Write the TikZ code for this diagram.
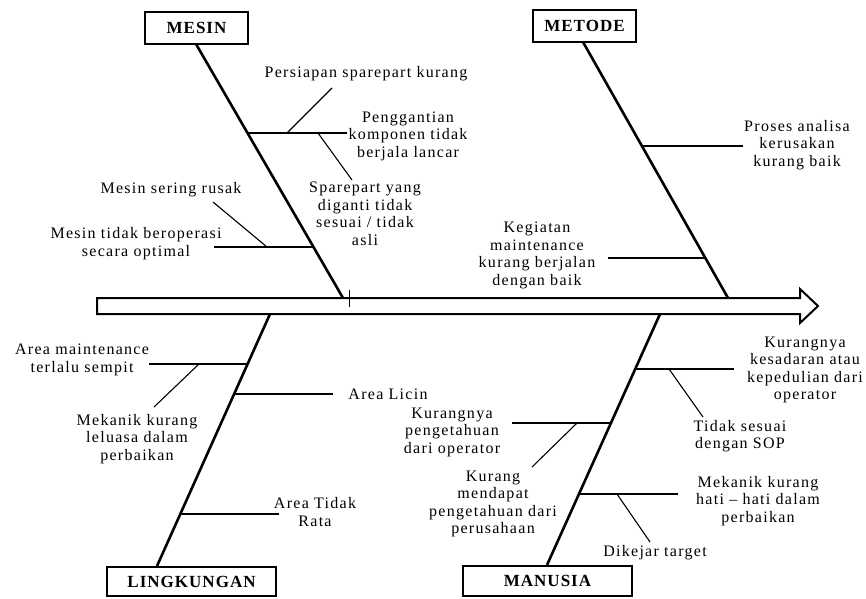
\documentclass[tikz,border=0pt]{standalone}
\usepackage{fontspec}
\setmainfont{Liberation Serif}[LetterSpace=8]
\newfontfamily\boxfont{Liberation Serif}[LetterSpace=6]
\begin{document}
\begin{tikzpicture}[x=1pt,y=-1pt,
  lbl/.style={align=center,font=\fontsize{16}{17.5}\selectfont,inner sep=0pt},
  catbox/.style={draw,line width=2.2pt,font=\boxfont\fontsize{17}{19}\selectfont\bfseries,inner sep=0pt},
  bone/.style={line width=2.6pt},
  twig/.style={line width=1.1pt},
  spine/.style={line width=2pt,line join=miter}]
\useasboundingbox (0,0) rectangle (866,598);

% spine arrow
\draw[spine] (97,298) -- (800,298) -- (800,289) -- (818,306) -- (800,323) -- (800,314) -- (97,314) -- cycle;
\draw[line width=0.8pt] (349,290) -- (349,307);

% category boxes
\node[catbox,minimum width=103pt,minimum height=32pt] (mesin) at (196.5,28) {MESIN};
\node[catbox,minimum width=103pt,minimum height=32pt] (metode) at (584.5,26) {METODE};
\node[catbox,minimum width=169pt,minimum height=29pt] (lingk) at (191.5,581.5) {LINGKUNGAN};
\node[catbox,minimum width=169pt,minimum height=30pt] (manusia) at (547.5,581) {MANUSIA};

% bone ends
\coordinate (mesinEnd) at (343,298);
\coordinate (metodeEnd) at (728,298);
\coordinate (lingkStart) at (270,314);
\coordinate (lingkTop) at (157,566);
\coordinate (manStart) at (660,314);
\coordinate (manTop) at (547,565);

\draw[bone] (196,44) -- (mesinEnd);
\draw[bone] (583,42) -- (metodeEnd);
\draw[bone] (lingkStart) -- (lingkTop);
\draw[bone] (manStart) -- (manTop);

% labels
\node[lbl] (l1) at (366,74) {Persiapan sparepart kurang};
\node[lbl] (l2) at (408,136) {Penggantian\\komponen tidak\\berjala lancar};
\node[lbl] (l3) at (365,214) {Sparepart yang\\diganti tidak\\sesuai / tidak\\asli};
\node[lbl] (l4) at (171,190) {Mesin sering rusak};
\node[lbl] (l5) at (136,243.5) {Mesin tidak beroperasi\\secara optimal};
\node[lbl] (l6) at (797,145) {Proses analisa\\kerusakan\\kurang baik};
\node[lbl] (l7) at (537,255.5) {Kegiatan\\maintenance\\kurang berjalan\\dengan baik};
\node[lbl] (l8) at (82,360) {Area maintenance\\terlalu sempit};
\node[lbl] (l9) at (137,439) {Mekanik kurang\\leluasa dalam\\perbaikan};
\node[lbl] (l10) at (388,394) {Area Licin};
\node[lbl] (l11) at (315,512) {Area Tidak\\Rata};
\node[lbl] (l12) at (805,370) {Kurangnya\\kesadaran atau\\kepedulian dari\\operator};
\node[lbl] (l13) at (740,436) {Tidak sesuai\\dengan SOP};
\node[lbl] (l14) at (452,432) {Kurangnya\\pengetahuan\\dari operator};
\node[lbl] (l15) at (493,504) {Kurang\\mendapat\\pengetahuan dari\\perusahaan};
\node[lbl] (l16) at (758,501) {Mekanik kurang\\hati -- hati dalam\\perbaikan};
\node[lbl] (l17) at (655,553) {Dikejar target};

% MESIN twigs
\coordinate (a1) at (247.1,133); \coordinate (a2) at (347,133);
\coordinate (a3) at (287,133);   \coordinate (a4) at (332,88);
\coordinate (a5) at (318,133);   \coordinate (a6) at (352,180);
\draw[twig] (a1) -- (a2);
\draw[twig] (a3) -- (a4);
\draw[twig] (a5) -- (a6);
\coordinate (b1) at (214,247); \coordinate (b2) at (313.4,247);
\coordinate (b3) at (267,247); \coordinate (b4) at (213,202);
\draw[twig] (b1) -- (b2);
\draw[twig] (b3) -- (b4);

% METODE twigs
\coordinate (c1) at (641.6,146); \coordinate (c2) at (743,146);
\draw[twig] (c1) -- (c2);
\coordinate (d1) at (608,258); \coordinate (d2) at (705.2,258);
\draw[twig] (d1) -- (d2);

% LINGKUNGAN twigs
\coordinate (e1) at (149,364); \coordinate (e2) at (247.6,364);
\coordinate (e3) at (199,364); \coordinate (e4) at (154,407);
\draw[twig] (e1) -- (e2);
\draw[twig] (e3) -- (e4);
\coordinate (f1) at (234.1,394); \coordinate (f2) at (333,394);
\draw[twig] (f1) -- (f2);
\coordinate (g1) at (180.3,514); \coordinate (g2) at (279,514);
\draw[twig] (g1) -- (g2);

% MANUSIA twigs
\coordinate (h1) at (635.2,369); \coordinate (h2) at (734,369);
\coordinate (h3) at (669,369);   \coordinate (h4) at (703,417);
\draw[twig] (h1) -- (h2);
\draw[twig] (h3) -- (h4);
\coordinate (i1) at (512,423); \coordinate (i2) at (610.9,423);
\coordinate (i3) at (577,423); \coordinate (i4) at (532,467);
\draw[twig] (i1) -- (i2);
\draw[twig] (i3) -- (i4);
\coordinate (j1) at (579,494); \coordinate (j2) at (678,494);
\coordinate (j3) at (617,494); \coordinate (j4) at (650,542);
\draw[twig] (j1) -- (j2);
\draw[twig] (j3) -- (j4);
\end{tikzpicture}
\end{document}
